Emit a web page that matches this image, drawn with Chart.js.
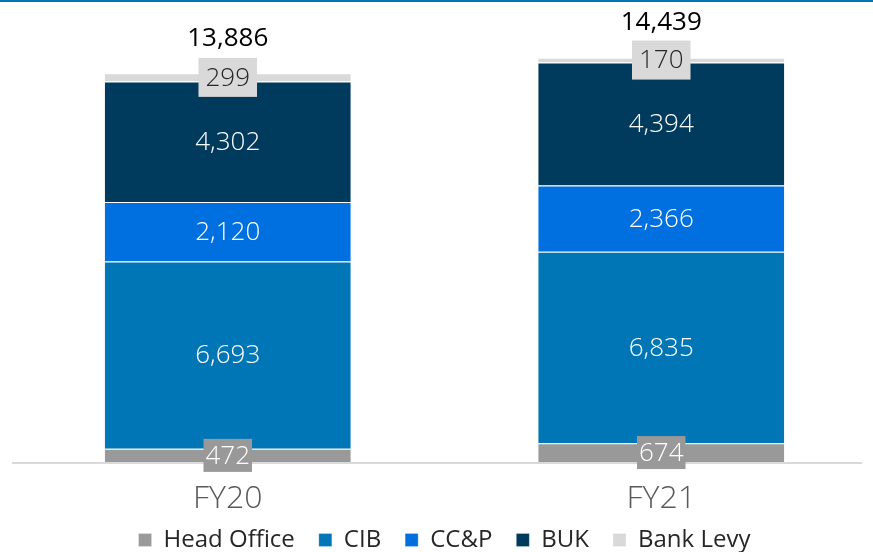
<!DOCTYPE html>
<html>
<head>
<meta charset="utf-8">
<script src="https://cdn.jsdelivr.net/npm/chart.js@4/dist/chart.umd.min.js"></script>
<style>
  html, body { margin:0; padding:0; background:#fff; overflow:hidden; }
  #wrap { width:873px; height:552px; position:relative; overflow:hidden; }
</style>
</head>
<body>
<div id="wrap"><canvas id="chart" width="878" height="562"></canvas></div>
<script>
//--------------------------------------------------
// DATA
//--------------------------------------------------
const years = ["FY20", "FY21"];
const headOffice = [472, 674];
const cib = [6693, 6835];
const ccp = [2120, 2366];
const buk = [4302, 4394];
const bankLevy = [299, 170];
const totals = [13886, 14439];

const FONT = "'Open Sans', 'Noto Sans', sans-serif";

function fmt(v){ return v.toLocaleString("en-US"); }

// labels on the bars + totals on top
const labelPlugin = {
  id: "labels",
  afterDatasetsDraw(chart){
    const ctx = chart.ctx;
    ctx.save();
    ctx.font = "300 26px " + FONT;
    ctx.textAlign = "center";
    ctx.textBaseline = "middle";
    chart.data.datasets.forEach((ds, i)=>{
      const meta = chart.getDatasetMeta(i);
      meta.data.forEach((bar, j)=>{
        const y = (bar.y + bar.base) / 2;
        const txt = fmt(ds.data[j]);
        if(ds.box){
          const w = ctx.measureText(txt).width + ds.box.pad;
          const h = ds.box.h;
          ctx.fillStyle = ds.backgroundColor;
          ctx.fillRect(bar.x - w/2, y - h/2, w, h);
          ctx.fillStyle = ds.box.color;
        } else {
          ctx.fillStyle = "#fff";
        }
        ctx.fillText(txt, bar.x, y + 1);
      });
    });
    // totals
    const top = chart.getDatasetMeta(chart.data.datasets.length - 1);
    ctx.font = "26px " + FONT;
    ctx.fillStyle = "#000";
    top.data.forEach((bar, j)=>{
      ctx.fillText(fmt(totals[j]), bar.x, bar.y - 35);
    });
    ctx.restore();
  }
};

// blue rule at top + grey baseline
const framePlugin = {
  id: "frame",
  afterLayout(chart){
    // x labels hang a little into the legend's box; don't clip them
    chart.scales.x.bottom = chart.height;
  },
  beforeDatasetsDraw(chart){
    const ctx = chart.ctx;
    const yb = chart.scales.y.getPixelForValue(0);
    ctx.save();
    ctx.fillStyle = "#0076B6";
    ctx.fillRect(0, 0, chart.width, 2);
    ctx.strokeStyle = "#D9D9D9";
    ctx.lineWidth = 2;
    ctx.beginPath();
    ctx.moveTo(12, yb + 1);
    ctx.lineTo(862, yb + 1);
    ctx.stroke();
    ctx.restore();
  }
};

function ds(label, data, color, extra){
  return Object.assign({
    label, data,
    backgroundColor: color,
    borderColor: "#fff",
    borderWidth: { top: 1 },
    borderSkipped: false,
    barPercentage: 0.5675,
    categoryPercentage: 1
  }, extra || {});
}

new Chart(document.getElementById("chart"), {
  type: "bar",
  data: {
    labels: years,
    datasets: [
      ds("Head Office", headOffice, "#999999", { box:{ pad:4, h:33, color:"#fff" } }),
      ds("CIB", cib, "#0076B6"),
      ds("CC&P", ccp, "#0070E0"),
      ds("BUK", buk, "#003A5D"),
      ds("Bank Levy", bankLevy, "#D9D9D9", { box:{ pad:14, h:39, color:"#262626" } })
    ]
  },
  options: {
    responsive: false,
    animation: false,
    layout: { padding: { left: 11, right: 0, top: 0, bottom: 0 } },
    scales: {
      x: {
        stacked: true,
        grid: { display: false, drawTicks: false },
        border: { display: false },
        ticks: { color: "#595959", font: { family: FONT, size: 32, weight: 300 }, padding: 18 },
        afterFit(scale){ scale.height = 42; }
      },
      y: {
        stacked: true,
        display: false,
        min: 0,
        max: 16500
      }
    },
    plugins: {
      legend: {
        position: "bottom",
        labels: {
          color: "#262626",
          font: { family: FONT, size: 24 },
          boxWidth: 13,
          boxHeight: 13,
          padding: 24
        }
      },
      tooltip: { enabled: false }
    }
  },
  plugins: [framePlugin, labelPlugin]
});
</script>
</body>
</html>
